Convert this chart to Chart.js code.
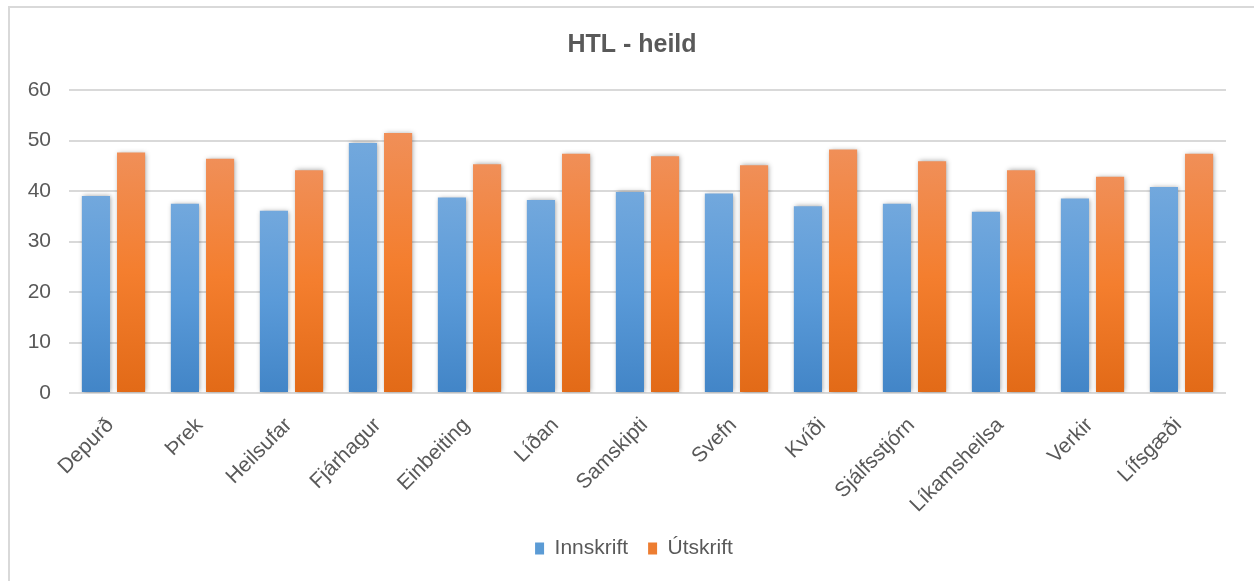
<!DOCTYPE html>
<html>
<head>
<meta charset="utf-8">
<script src="https://cdn.jsdelivr.net/npm/chart.js@4"></script>
<style>
  html, body { margin: 0; padding: 0; background: #ffffff; }
  #wrap { position: relative; width: 1254px; height: 581px; overflow: hidden; }
  #frame { position: absolute; left: 8px; top: 6px; width: 1300px; height: 700px;
           border-top: 2.5px solid #d9d9d9; border-left: 2.5px solid #d9d9d9; box-sizing: border-box; }
  canvas { position: absolute; left: 0; top: 0; }
</style>
</head>
<body>
<div id="wrap">
  <div id="frame"></div>
  <canvas id="c" width="1254" height="581"></canvas>
</div>
<script>
const categories = ["Depurð", "Þrek", "Heilsufar", "Fjárhagur", "Einbeiting", "Líðan", "Samskipti",
                    "Svefn", "Kvíði", "Sjálfsstjórn", "Líkamsheilsa", "Verkir", "Lífsgæði"];
const innskrift = [39.0, 37.5, 36.1, 49.5, 38.7, 38.2, 39.8, 39.5, 37.0, 37.5, 35.9, 38.5, 40.8];
const utskrift  = [47.6, 46.4, 44.1, 51.5, 45.3, 47.4, 46.9, 45.1, 48.2, 45.9, 44.1, 42.8, 47.4];
const seriesNames = ["Innskrift", "Útskrift"];
const chartTitle = "HTL - heild";
const yMin = 0, yMax = 60, yStep = 10;

const FONT = "'Liberation Sans', Arial, sans-serif";
const TXT = "#595959";

function barGradient(stops, fallback) {
  return function (ctx) {
    const chart = ctx.chart;
    const area = chart.chartArea;
    if (!area || ctx.type !== 'data' || !chart.scales.y) return fallback;
    const yTop = chart.scales.y.getPixelForValue(ctx.raw);
    const yBot = chart.scales.y.getPixelForValue(0);
    if (!isFinite(yTop) || !isFinite(yBot) || yTop === yBot) return fallback;
    const g = chart.ctx.createLinearGradient(0, yTop, 0, yBot);
    g.addColorStop(0, stops[0]);
    g.addColorStop(0.5, stops[1]);
    g.addColorStop(1, stops[2]);
    return g;
  };
}

const shadowPlugin = {
  id: 'barShadow',
  beforeDatasetsDraw(chart) {
    const c = chart.ctx;
    c.save();
    c.shadowColor = 'rgba(0,0,0,0.38)';
    c.shadowBlur = 5;
    c.shadowOffsetX = 1;
    c.shadowOffsetY = 0;
  },
  afterDatasetsDraw(chart) {
    chart.ctx.restore();
  }
};

// shift title and legend horizontally so they centre like the reference
const centrePlugin = {
  id: 'centreShift',
  afterLayout(chart) {
    const t = chart.titleBlock;
    if (t) { t.left += 14; t.right += 14; }
    const l = chart.legend;
    if (l) { l.left += 16; l.right += 16; }
  }
};

new Chart(document.getElementById('c'), {
  type: 'bar',
  data: {
    labels: categories,
    datasets: [
      { label: seriesNames[0], data: innskrift,
        backgroundColor: barGradient(['#72a8dd', '#5a9ad8', '#4285c7'], '#5b9bd5'),
        borderWidth: 0 },
      { label: seriesNames[1], data: utskrift,
        backgroundColor: barGradient(['#f08f58', '#f47e2e', '#e26a17'], '#ed7d31'),
        borderWidth: 0 }
    ]
  },
  plugins: [shadowPlugin, centrePlugin],
  options: {
    responsive: false,
    animation: false,
    devicePixelRatio: 1,
    layout: { padding: { left: 10, right: 28, top: 0, bottom: 12 } },
    datasets: { bar: { categoryPercentage: 0.79, barPercentage: 0.8 } },
    plugins: {
      title: {
        display: true, text: chartTitle, color: TXT,
        font: { family: FONT, size: 25, weight: 'bold' },
        padding: { top: 30, bottom: 30 }
      },
      legend: {
        position: 'bottom',
        labels: {
          color: TXT, font: { family: FONT, size: 21 },
          boxWidth: 9, boxHeight: 12, padding: 20,
          generateLabels(chart) {
            const fills = ['#5b9bd5', '#ed7d31'];
            return chart.data.datasets.map((d, i) => ({
              text: d.label, fillStyle: fills[i], strokeStyle: fills[i], lineWidth: 0,
              fontColor: TXT, hidden: false, datasetIndex: i
            }));
          }
        }
      },
      tooltip: { enabled: false }
    },
    scales: {
      x: {
        grid: { display: false },
        border: { display: false },
        ticks: { color: TXT, font: { family: FONT, size: 21 }, minRotation: 45, maxRotation: 45,
                 padding: 12, labelOffset: -3 },
        afterFit(scale) { scale.height = 125; }
      },
      y: {
        min: yMin, max: yMax,
        grid: { color: '#d9d9d9', lineWidth: 2, drawTicks: false },
        border: { display: false },
        ticks: { stepSize: yStep, color: TXT, font: { family: FONT, size: 21 }, padding: 18 },
        afterFit(scale) { scale.width = 59; }
      }
    }
  }
});
</script>
</body>
</html>
